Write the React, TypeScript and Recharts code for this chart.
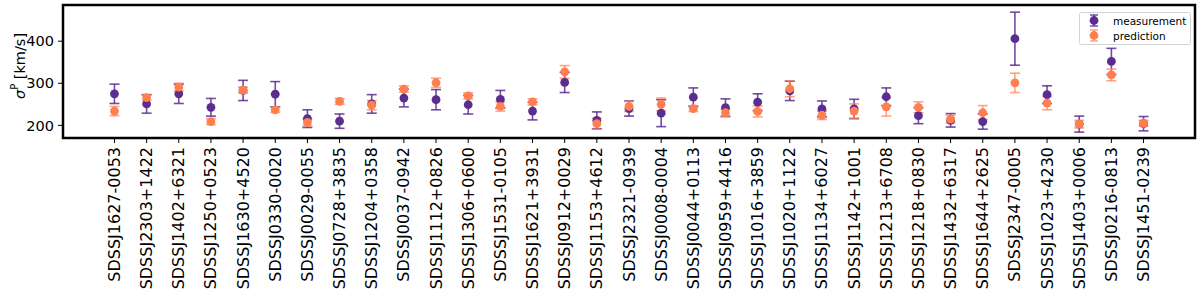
import React from 'react';
import {
  ScatterChart,
  Scatter,
  XAxis,
  YAxis,
  ErrorBar,
  ReferenceArea,
  Legend,
} from 'recharts';

const lensNames = [
  'SDSSJ1627-0053', 'SDSSJ2303+1422', 'SDSSJ1402+6321', 'SDSSJ1250+0523', 'SDSSJ1630+4520',
  'SDSSJ0330-0020', 'SDSSJ0029-0055', 'SDSSJ0728+3835', 'SDSSJ1204+0358', 'SDSSJ0037-0942',
  'SDSSJ1112+0826', 'SDSSJ1306+0600', 'SDSSJ1531-0105', 'SDSSJ1621+3931', 'SDSSJ0912+0029',
  'SDSSJ1153+4612', 'SDSSJ2321-0939', 'SDSSJ0008-0004', 'SDSSJ0044+0113', 'SDSSJ0959+4416',
  'SDSSJ1016+3859', 'SDSSJ1020+1122', 'SDSSJ1134+6027', 'SDSSJ1142+1001', 'SDSSJ1213+6708',
  'SDSSJ1218+0830', 'SDSSJ1432+6317', 'SDSSJ1644+2625', 'SDSSJ2347-0005', 'SDSSJ1023+4230',
  'SDSSJ1403+0006', 'SDSSJ0216-0813', 'SDSSJ1451-0239',
];

const measured = [
  275, 251, 275, 243, 283, 274, 216, 210, 251, 265, 261, 249, 262, 234, 302, 212, 240,
  229, 267, 242, 255, 282, 239, 239, 268, 223, 212, 209, 406, 273, 203, 352, 204,
];
const measuredErr = [
  23, 22, 23, 21, 24, 30, 21, 17, 22, 21, 24, 22, 21, 21, 24, 20, 18,
  32, 22, 21, 20, 23, 19, 23, 21, 19, 16, 18, 63, 21, 19, 31, 17,
];
const predicted = [
  234, 266, 291, 209, 284, 237, 207, 257, 248, 286, 301, 270, 245, 256, 327, 204, 245,
  250, 240, 230, 233, 287, 224, 234, 244, 243, 215, 230, 301, 253, 203, 320, 205,
];
const predictedErr = [
  11, 6, 9, 7, 7, 6, 8, 7, 11, 7, 11, 7, 11, 7, 15, 13, 12,
  15, 7, 8, 13, 19, 10, 17, 22, 13, 9, 17, 23, 16, 9, 14, 7,
];

const yTicks = [200, 300, 400];

const PURPLE = '#5c2d91';
const ORANGE = '#ff7f50';
const FONT = '"DejaVu Sans", sans-serif';

const measData = measured.map((y, i) => ({ x: i, y, err: measuredErr[i] }));
const predData = predicted.map((y, i) => ({ x: i, y, err: predictedErr[i] }));
const xTicks = lensNames.map((_, i) => i);

const X_DOMAIN: [number, number] = [-1.6, lensNames.length - 1 + 1.6];
const Y_DOMAIN: [number, number] = [170, 486];

const dot = (color: string) => (props: any) => (
  <circle cx={props.cx} cy={props.cy} r={4.4} fill={color} />
);

function NameTick({ x, y, payload }: any) {
  return (
    <text
      x={x}
      y={y}
      transform={`rotate(-90, ${x}, ${y})`}
      textAnchor="end"
      dominantBaseline="central"
      fontSize={16}
      fontFamily={FONT}
      fill="#000"
    >
      {lensNames[payload.value]}
    </text>
  );
}

function YLabel() {
  return (
    <text
      x={20}
      y={66}
      transform="rotate(-90, 20, 66)"
      textAnchor="middle"
      dominantBaseline="central"
      fontSize={14.5}
      fontFamily={FONT}
      fill="#000"
    >
      <tspan fontStyle="italic">σ</tspan>
      <tspan fontSize={10} dy={-6}>P</tspan>
      <tspan dy={6}> [km/s]</tspan>
    </text>
  );
}

const legendItems = [
  { name: 'measurement', color: PURPLE, barOpacity: 0.85 },
  { name: 'prediction', color: ORANGE, barOpacity: 0.7 },
];

function LegendBox() {
  return (
    <svg width={112} height={33} style={{ display: 'block' }}>
      <rect x={0.5} y={0.5} width={111} height={32} rx={2} fill="#fff" fillOpacity={0.8} stroke="#d4d4d4" />
      {legendItems.map((it, i) => {
        const cy = 8.5 + i * 15;
        return (
          <g key={it.name}>
            <g stroke={it.color} strokeOpacity={it.barOpacity} strokeWidth={1.5}>
              <line x1={15} y1={cy - 5.5} x2={15} y2={cy + 5.5} />
              <line x1={11} y1={cy - 5.5} x2={19} y2={cy - 5.5} />
              <line x1={11} y1={cy + 5.5} x2={19} y2={cy + 5.5} />
            </g>
            <circle cx={15} cy={cy} r={4.4} fill={it.color} />
            <text x={34} y={cy} dominantBaseline="central" fontSize={10.5} fontFamily={FONT} fill="#000">
              {it.name}
            </text>
          </g>
        );
      })}
    </svg>
  );
}

export default function App() {
  return (
    <div style={{ position: 'absolute', left: 0, top: 0, width: 1200, height: 290, background: '#fff' }}>
      <ScatterChart width={1200} height={290} margin={{ top: 5, right: 5, bottom: 0, left: 0 }}>
        <XAxis
          type="number"
          dataKey="x"
          domain={X_DOMAIN}
          ticks={xTicks}
          interval={0}
          allowDataOverflow
          height={152}
          axisLine={false}
          tickLine={{ stroke: '#000', strokeWidth: 1 }}
          tickSize={5}
          tickMargin={4}
          tick={<NameTick />}
        />
        <YAxis
          type="number"
          dataKey="y"
          domain={Y_DOMAIN}
          ticks={yTicks}
          allowDataOverflow
          width={63}
          axisLine={false}
          tickLine={{ stroke: '#000', strokeWidth: 1 }}
          tickSize={5}
          tickMargin={4}
          tick={{ fill: '#000', fontSize: 14.5, fontFamily: FONT }}
          label={<YLabel />}
        />
        <ReferenceArea
          x1={X_DOMAIN[0]}
          x2={X_DOMAIN[1]}
          y1={Y_DOMAIN[0]}
          y2={Y_DOMAIN[1]}
          fill="none"
          stroke="#000"
          strokeWidth={2.5}
          ifOverflow="visible"
        />
        <Scatter name="measurement" data={measData} fill={PURPLE} shape={dot(PURPLE)} isAnimationActive={false}>
          <ErrorBar dataKey="err" direction="y" width={5} stroke={PURPLE} strokeOpacity={0.85} strokeWidth={1.6} />
        </Scatter>
        <Scatter name="prediction" data={predData} fill={ORANGE} shape={dot(ORANGE)} isAnimationActive={false}>
          <ErrorBar dataKey="err" direction="y" width={5} stroke={ORANGE} strokeOpacity={0.7} strokeWidth={1.6} />
        </Scatter>
        <Legend
          layout="vertical"
          align="center"
          verticalAlign="middle"
          content={<LegendBox />}
          wrapperStyle={{ position: 'absolute', top: 12, left: 1079, width: 112, height: 33 }}
        />
      </ScatterChart>
    </div>
  );
}
